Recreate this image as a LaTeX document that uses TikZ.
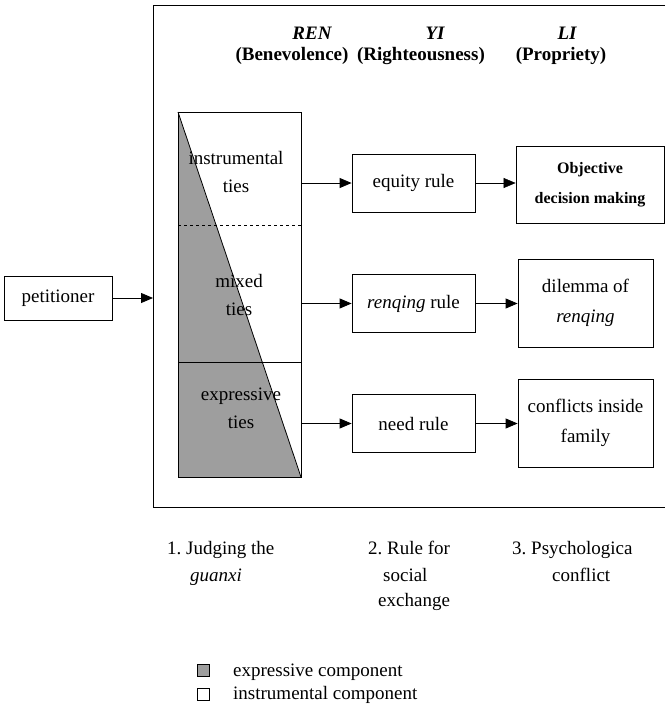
\documentclass[tikz,border=0pt]{standalone}
\usepackage{fontspec}
\setmainfont{Liberation Serif}
\usepackage{tikz}
\usetikzlibrary{arrows.meta,positioning,calc}
\colorlet{exprgray}{black!38}
\frenchspacing
\tikzset{
  rulebox/.style={draw, line width=0.8pt, minimum width=123, minimum height=58, inner sep=0pt, align=center},
  outbox/.style={draw, line width=0.8pt, minimum width=135, minimum height=88, inner sep=0pt, align=center, font=\fontsize{19}{30}\selectfont},
  caption/.style={anchor=base west, inner sep=0pt},
  head/.style={inner sep=0pt, font=\fontsize{19}{24}\selectfont\bfseries},
  filled/.tip={Triangle[length=12pt,width=10pt]},
  link/.style={-filled, line width=0.8pt}}

\begin{document}
\begin{tikzpicture}[x=1pt,y=-1pt,font=\fontsize{19}{28}\selectfont]
\useasboundingbox (0,0) rectangle (665,712);
\coordinate (f1) at (665,5);
\coordinate (f2) at (153,5);
\coordinate (f3) at (153,507);
\coordinate (f4) at (665,507);
\draw[line width=1pt] (f1) -- (f2) -- (f3) -- (f4);

\node[head, font=\fontsize{19}{24}\selectfont\bfseries\itshape] (ren) at (312,33) {REN};
\node[head] (benev) at (292,56) {(Benevolence)};
\node[head, font=\fontsize{19}{24}\selectfont\bfseries\itshape] (yi) at (435,33) {YI};
\node[head] (right) at (421,56) {(Righteousness)};
\node[head, font=\fontsize{19}{24}\selectfont\bfseries\itshape] (li) at (567,33) {LI};
\node[head] (propr) at (561,56) {(Propriety)};

\node[draw, line width=0.8pt, minimum width=108, minimum height=44, inner sep=0pt] (pet) at (58,298) {petitioner};
\coordinate (entry) at (153,298);
\draw[link] (pet) -- (entry);

\coordinate (tnw) at (178,112);
\coordinate (tse) at (301,477);
\fill[exprgray] (tnw) -- (tse) -- (tnw |- tse) -- cycle;
\draw[line width=0.8pt] (tnw) rectangle (tse);
\draw[line width=0.8pt] (tnw) -- (tse);
\draw[dashed, line width=0.8pt] (178,225) -- (301,225);
\draw[line width=0.8pt] (178,362) -- (301,362);
\node[align=center] (instr) at (236,172) {instrumental\\ties};
\node[align=center] (mixed) at (239,295) {mixed\\ties};
\node[align=center] (express) at (241,408) {expressive\\ties};

\node[rulebox] (equity) at (413.5,183) {equity rule};
\node[rulebox] (renqing) at (413.5,303.5) {\textit{renqing} rule};
\node[rulebox] (need) at (413.5,423.5) {need rule};
\draw[link] (equity.west -| tse) -- (equity.west);
\draw[link] (renqing.west -| tse) -- (renqing.west);
\draw[link] (need.west -| tse) -- (need.west);

\node[outbox, minimum width=148, minimum height=77, font=\fontsize{16}{30}\selectfont\bfseries] (objective) at (590,184.5) {Objective\\decision making};
\node[outbox] (dilemma) at (585.5,303) {dilemma of\\\textit{renqing}};
\node[outbox] (family) at (585.5,423) {conflicts inside\\family};
\draw[link, line width=0.5pt] (equity.east) -- (equity.east -| objective.west);
\draw[link] (renqing.east) -- (renqing.east -| dilemma.west);
\draw[link] (need.east) -- (need.east -| family.west);

\node[caption] (step1) at (167,554) {1. Judging the};
\node[caption] (step1b) at (190,581) {\textit{guanxi}};
\node[caption] (step2) at (368,554) {2. Rule for};
\node[caption] (step2b) at (383,581) {social};
\node[caption] (step2c) at (378,606) {exchange};
\node[caption] (step3) at (512,554) {3. Psychologica};
\node[caption] (step3b) at (552,581) {conflict};

\node[draw, fill=exprgray, minimum size=12, inner sep=0pt] (keyexpr) at (203,670) {};
\node[draw, minimum size=12, inner sep=0pt] (keyinstr) at (203,694) {};
\node[caption] (lblexpr) at (233,676) {expressive component};
\node[caption] (lblinstr) at (233,699) {instrumental component};
\end{tikzpicture}
\end{document}
